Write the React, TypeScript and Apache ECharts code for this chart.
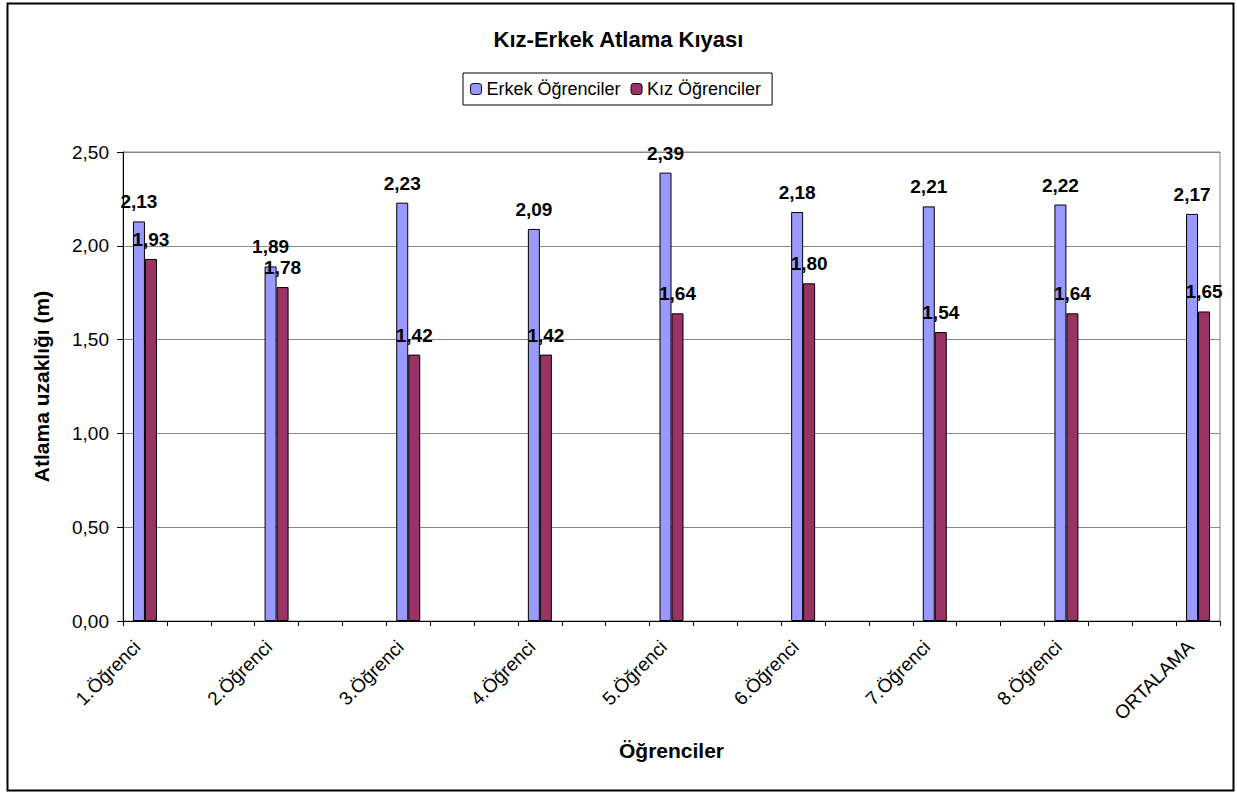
import React, { useEffect, useRef } from "react";
import * as echarts from "echarts";

const students = ["1.Öğrenci", "2.Öğrenci", "3.Öğrenci", "4.Öğrenci", "5.Öğrenci", "6.Öğrenci", "7.Öğrenci", "8.Öğrenci", "ORTALAMA"];
const erkek = [2.13, 1.89, 2.23, 2.09, 2.39, 2.18, 2.21, 2.22, 2.17];
const kiz = [1.93, 1.78, 1.42, 1.42, 1.64, 1.80, 1.54, 1.64, 1.65];
const yTicks = [0, 0.5, 1, 1.5, 2, 2.5];
const GAP_SLOTS = 2; // empty category slots between students

const fmt = (v: number) => v.toFixed(2).replace(".", ",");

export default function App() {
  const ref = useRef<HTMLDivElement>(null);
  useEffect(() => {
    document.body.style.margin = "0";
    const chart = echarts.init(ref.current!, null, { renderer: "svg" });
    const cats: string[] = [];
    const eData: any[] = [];
    const kData: any[] = [];
    students.forEach((s, i) => {
      cats.push(s);
      eData.push(erkek[i]);
      kData.push(kiz[i]);
      if (i < students.length - 1) {
        for (let g = 0; g < GAP_SLOTS; g++) {
          cats.push("_gap" + i + "_" + g);
          eData.push("-");
          kData.push("-");
        }
      }
    });
    const font = "'Liberation Sans', Arial, sans-serif";
    const labelCfg = {
      show: true,
      position: "top",
      distance: 10,
      color: "#000",
      fontWeight: "bold",
      fontSize: 19,
      fontFamily: font,
      formatter: (p: any) => fmt(p.value),
    };
    chart.setOption({
      animation: false,
      textStyle: { fontFamily: font },
      title: {
        text: "Kız-Erkek Atlama Kıyası",
        left: "center",
        top: 23,
        textStyle: { fontSize: 22, fontWeight: "bold", color: "#000", fontFamily: font },
      },
      legend: {
        left: 463,
        top: 73,
        padding: [7, 11, 7, 7],
        borderColor: "#000",
        borderWidth: 1,
        itemWidth: 11,
        itemHeight: 11,
        itemGap: 10,
        textStyle: { fontSize: 18, color: "#000", fontFamily: font },
        data: [
          { name: "Erkek Öğrenciler", itemStyle: { borderColor: "#000", borderWidth: 1 } },
          { name: "Kız Öğrenciler", itemStyle: { borderColor: "#000", borderWidth: 1 } },
        ],
      },
      grid: {
        left: 123,
        right: 17,
        top: 152,
        bottom: 171,
        show: true,
        borderColor: "#888",
        borderWidth: 1,
      },
      xAxis: {
        type: "category",
        data: cats,
        boundaryGap: true,
        name: "Öğrenciler",
        nameLocation: "middle",
        nameGap: 119,
        nameTextStyle: { fontSize: 21, fontWeight: "bold", color: "#000", fontFamily: font },
        axisLine: { lineStyle: { color: "#000", width: 1 } },
        axisTick: { show: true, interval: 0, length: 5, lineStyle: { color: "#000" } },
        axisLabel: {
          interval: 0,
          rotate: 45,
          fontSize: 19,
          color: "#000",
          margin: 15,
          padding: [0, 11, 0, 0],
          fontFamily: font,
          formatter: (v: string) => (v.startsWith("_gap") ? "" : v),
        },
        splitLine: { show: false },
      },
      yAxis: {
        type: "value",
        min: yTicks[0],
        max: yTicks[yTicks.length - 1],
        interval: 0.5,
        name: "Atlama uzaklığı (m)",
        nameLocation: "middle",
        nameGap: 71,
        nameTextStyle: { fontSize: 21, fontWeight: "bold", color: "#000", fontFamily: font },
        axisLine: { show: true, lineStyle: { color: "#000", width: 1 } },
        axisTick: { show: true, inside: false, length: 6, lineStyle: { color: "#000" } },
        axisLabel: { fontSize: 19, color: "#000", margin: 14, fontFamily: font, formatter: (v: number) => fmt(v) },
        splitLine: { show: true, lineStyle: { color: "#888", width: 1 } },
      },
      series: [
        {
          name: "Erkek Öğrenciler",
          type: "bar",
          data: eData,
          barWidth: 12,
          barGap: "0%",
          itemStyle: { color: "#9999FF", borderColor: "#000", borderWidth: 1 },
          label: labelCfg,
        },
        {
          name: "Kız Öğrenciler",
          type: "bar",
          data: kData,
          barWidth: 12,
          barGap: "0%",
          itemStyle: { color: "#993366", borderColor: "#000", borderWidth: 1 },
          label: labelCfg,
        },
      ],
      graphic: [
        {
          type: "rect",
          left: 5,
          top: 1,
          shape: { width: 1226, height: 787 },
          style: { fill: "none", stroke: "#000", lineWidth: 2 },
          silent: true,
        },
      ],
    });
    return () => chart.dispose();
  }, []);
  return <div ref={ref} style={{ width: 1237, height: 792 }} />;
}
